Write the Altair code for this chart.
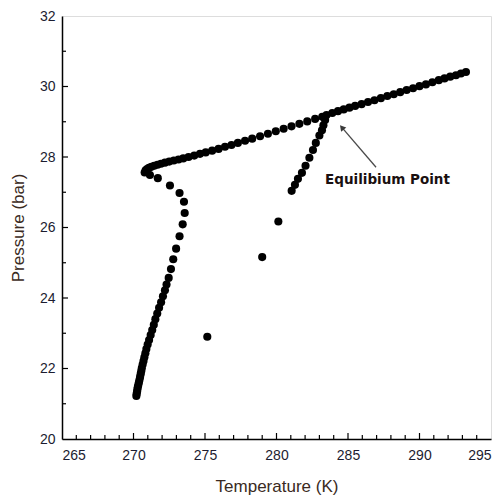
import altair as alt
import pandas as pd

# ---- data ----
# cooling branch (bottom up to the turn)
T_cool = [270.20, 270.22, 270.25, 270.27, 270.30, 270.34, 270.38, 270.42, 270.46, 270.50,
          270.54, 270.58, 270.64, 270.70, 270.76, 270.83, 270.90, 270.99, 271.09, 271.20,
          271.31, 271.42, 271.53, 271.66, 271.79, 271.93, 272.06, 272.20, 272.31, 272.46,
          272.62, 272.78, 272.98, 273.22, 273.44, 273.58, 273.53, 273.22, 272.55, 271.70, 271.15]
P_cool = [21.22, 21.28, 21.34, 21.40, 21.47, 21.54, 21.61, 21.68, 21.76, 21.84,
          21.92, 22.01, 22.11, 22.21, 22.32, 22.43, 22.55, 22.68, 22.81, 22.95,
          23.09, 23.24, 23.40, 23.56, 23.72, 23.88, 24.05, 24.22, 24.38, 24.57,
          24.82, 25.10, 25.40, 25.75, 26.09, 26.41, 26.73, 26.98, 27.19, 27.40, 27.49]

# heating line (turn -> top right)
T_heat = [270.78, 270.85, 270.95, 271.08, 271.25, 271.45, 271.68, 271.92, 272.20, 272.50,
          272.82, 273.15, 273.48, 273.85, 274.25, 274.65, 275.05, 275.50, 275.95, 276.40,
          276.85, 277.30, 277.80, 278.30, 278.85, 279.40, 279.95, 280.50, 281.05, 281.60,
          282.15, 282.70, 283.20, 283.50, 283.90, 284.30, 284.70, 285.10, 285.50, 285.95,
          286.40, 286.85, 287.30, 287.75, 288.20, 288.65, 289.10, 289.55, 290.00, 290.45,
          290.90, 291.35, 291.75, 292.15, 292.55, 292.90, 293.25]
P_heat = [27.56, 27.62, 27.66, 27.69, 27.72, 27.75, 27.78, 27.81, 27.84, 27.87,
          27.90, 27.93, 27.96, 28.00, 28.04, 28.09, 28.13, 28.18, 28.23, 28.29,
          28.34, 28.40, 28.46, 28.52, 28.59, 28.66, 28.73, 28.80, 28.87, 28.94,
          29.01, 29.08, 29.14, 29.19, 29.25, 29.30, 29.35, 29.40, 29.45, 29.50,
          29.56, 29.61, 29.67, 29.73, 29.78, 29.84, 29.90, 29.95, 30.01, 30.06,
          30.12, 30.18, 30.23, 30.28, 30.32, 30.37, 30.41]

# dissociation branch below the equilibrium point
T_diss = [283.40, 283.28, 283.18, 283.00, 282.75, 282.55, 282.30, 282.03, 281.78, 281.50,
          281.29, 281.06, 280.13, 279.00, 275.16]
P_diss = [29.05, 28.90, 28.76, 28.61, 28.40, 28.20, 27.98, 27.75, 27.55, 27.38,
          27.21, 27.04, 26.17, 25.16, 22.90]

x_major = [265, 270, 275, 280, 285, 290, 295]
x_minor = [t for t in range(266, 295) if t % 5 != 0]
y_major = [20, 22, 24, 26, 28, 30, 32]
y_minor = [21, 23, 25, 27, 29, 31]

ann_text = ["Equilibium Point"]
ann_T = [287.76]
ann_P = [27.35]
arrow_T = [286.96, 284.57]
arrow_P = [27.71, 28.84]

W, H = 429, 423

pts = pd.DataFrame({
    "T": T_cool + T_heat + T_diss,
    "P": P_cool + P_heat + P_diss,
})

xs = alt.Scale(domain=[265, 295], nice=False, zero=False)
ys = alt.Scale(domain=[20, 32], nice=False, zero=False)

label_color = "#1c1c30"
title_color = "#3a2a22"

x_axis = alt.Axis(
    title="Temperature (K)", values=x_major, ticks=False, grid=False,
    labelPadding=9, labelFontSize=14, labelFont="Liberation Sans", labelColor=label_color,
    titleFontSize=17, titleFont="Liberation Sans", titleFontWeight="normal", titleColor=title_color,
    titleY=52, titleBaseline="alphabetic",
    domainColor="black", domainWidth=1.5)
y_axis = alt.Axis(
    title="Pressure (bar)", values=y_major, ticks=False, grid=False,
    labelPadding=7, labelFontSize=14, labelFont="Liberation Sans", labelColor=label_color,
    titleFontSize=17, titleFont="Liberation Sans", titleFontWeight="normal", titleColor=title_color,
    titleX=-39, titleY=H / 2, titleBaseline="alphabetic",
    domainColor="black", domainWidth=1.5)


def X(f):
    return alt.X(f, scale=xs, axis=x_axis)


def Y(f):
    return alt.Y(f, scale=ys, axis=y_axis)


points = alt.Chart(pts).mark_point(filled=True, shape="circle", size=66, color="black", opacity=1).encode(
    x=X("T:Q"), y=Y("P:Q"))

xt_major = alt.Chart(pd.DataFrame({"T": x_major[1:-1]})).mark_rule(color="black", strokeWidth=1.2).encode(
    x=X("T:Q"), y=alt.value(H), y2=alt.value(H - 6))
xt_minor = alt.Chart(pd.DataFrame({"T": x_minor})).mark_rule(color="black", strokeWidth=1.2).encode(
    x=X("T:Q"), y=alt.value(H), y2=alt.value(H - 4))
yt_major = alt.Chart(pd.DataFrame({"P": y_major[1:-1]})).mark_rule(color="black", strokeWidth=1.2).encode(
    y=Y("P:Q"), x=alt.value(0), x2=alt.value(6))
yt_minor = alt.Chart(pd.DataFrame({"P": y_minor})).mark_rule(color="black", strokeWidth=1.2).encode(
    y=Y("P:Q"), x=alt.value(0), x2=alt.value(4))

arrow_df = pd.DataFrame({"T": [arrow_T[0]], "P": [arrow_P[0]], "T2": [arrow_T[1]], "P2": [arrow_P[1]]})
arrow_line = alt.Chart(arrow_df).mark_rule(color="#4a4a4a", strokeWidth=1.3).encode(
    x=X("T:Q"), y=Y("P:Q"), x2="T2:Q", y2="P2:Q")
arrow_head = alt.Chart(pd.DataFrame({"T": [arrow_T[1]], "P": [arrow_P[1]]})).mark_point(
    shape="triangle-up", filled=True, size=45, color="#3a3a3a", opacity=1, angle=320).encode(
    x=X("T:Q"), y=Y("P:Q"))

ann = alt.Chart(pd.DataFrame({"T": ann_T, "P": ann_P, "txt": ann_text})).mark_text(
    font="DejaVu Sans", fontSize=13.5, fontWeight="bold", color="#1a1010", align="center", baseline="middle").encode(
    x=X("T:Q"), y=Y("P:Q"), text="txt:N")

chart = alt.layer(points, xt_major, xt_minor, yt_major, yt_minor, arrow_line, arrow_head, ann).properties(
    width=W, height=H,
    autosize=alt.AutoSizeParams(type="none"),
    padding={"left": 54, "top": 8, "right": 4, "bottom": 58},
).configure_view(stroke="#555555", strokeWidth=1).configure(background="white")

chart.save("out.html", embed_options={"renderer": "svg", "actions": False})
